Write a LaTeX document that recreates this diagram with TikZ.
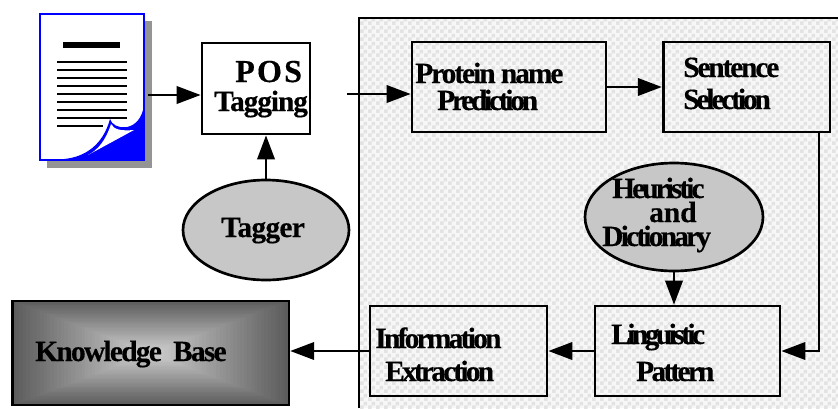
\documentclass[tikz,border=0pt]{standalone}
\usepackage{fontspec}
\setmainfont{Liberation Serif}[BoldFont={Liberation Serif Bold}]
\newfontfamily\tightfont{Liberation Serif Bold}[FakeBold=0.4]
\newcommand\ls[1]{\addfontfeature{LetterSpace=#1}}
\usetikzlibrary{arrows.meta,patterns,shapes.geometric}
\pgfdeclarepatternformonly{panelcheck}{\pgfqpoint{0pt}{0pt}}{\pgfqpoint{6pt}{6pt}}{\pgfqpoint{6pt}{6pt}}{
  \pgfpathrectangle{\pgfqpoint{0pt}{0pt}}{\pgfqpoint{3pt}{3pt}}
  \pgfpathrectangle{\pgfqpoint{3pt}{3pt}}{\pgfqpoint{3pt}{3pt}}
  \pgfusepath{fill}}
\tikzset{
  plainbox/.style={draw=black,line width=2pt,inner sep=0,rectangle},
  blob/.style={draw=black,line width=2pt,fill=black!22,ellipse,inner sep=0},
  lab/.style={inner sep=0,anchor=base west,font=\tightfont\fontsize{22}{22}\selectfont,text=black},
  conn/.style={line width=2pt,-{Triangle[length=18pt,width=13pt]},draw=black},
  txtline/.style={line width=2.2pt,draw=black},
}
\begin{document}
\begin{tikzpicture}[x=0.75pt,y=-0.75pt]
\useasboundingbox (0,0) rectangle (838,408);
% panel
\fill[black!3] (359,18) rectangle (838,408);
\fill[pattern=panelcheck,pattern color=black!11] (359,18) rectangle (838,408);
\draw[line width=2pt] (359,408) -- (359,18) -- (838,18);
% document
\fill[black!42] (47,21) rectangle (152,168);
\node[draw=blue,line width=2pt,fill=white,minimum width=78pt,minimum height=109.5pt,inner sep=0] (doc) at (92,87) {};
\fill[blue] (64,159) .. controls (85,157) and (103,145) .. (110,119) .. controls (113,130) and (137,133) .. (143,110) -- (144,160) -- cycle;
\fill[white] (88,155) .. controls (98,150) and (106,140) .. (111,124) .. controls (114,130) and (122,131) .. (134,130) -- cycle;
\draw[line width=4pt] (63,45) -- (120,45);
\foreach \y in {62,70,78,86,94,102,110,118} \draw[txtline] (57,\y) -- (127,\y);
\draw[txtline] (57,126) -- (103,126);
% boxes
\node[plainbox,fill=white,minimum width=81pt,minimum height=68.25pt] (pos) at (256,88.5) {};
\node[plainbox,minimum width=145.5pt,minimum height=67.5pt] (prot) at (509,87) {};
\node[plainbox,minimum width=125pt,minimum height=67.5pt] (sent) at (746.5,87) {};
\node[plainbox,minimum width=138.75pt,minimum height=67.5pt] (ling) at (687.5,351) {};
\node[plainbox,minimum width=132.75pt,minimum height=67.5pt] (info) at (458.5,351) {};
\node[blob,minimum width=124.5pt,minimum height=75pt] (tagger) at (266,230) {};
\node[blob,minimum width=133.5pt,minimum height=81pt] (heur) at (674,217) {};
% knowledge base
\foreach \i in {0,...,40}{
  \pgfmathsetmacro\hw{138*(1-\i/40)}
  \pgfmathsetmacro\hh{52*(1-\i/40)}
  \pgfmathsetmacro\g{0.36+0.46*\i/40}
  \definecolor{kbc}{gray}{\g}
  \fill[kbc] (150.5-\hw,353-\hh) rectangle (150.5+\hw,353+\hh);
}
\node[plainbox,minimum width=207.5pt,minimum height=78pt] (kb) at (150.5,353) {};
% texts
\node[lab,font=\tightfont\fontsize{24}{24}\selectfont] (t1) at (235,82) {\ls{7}POS};
\node[lab] (t2) at (214,111) {\ls{-3.6}Tagging};
\node[lab] (t3) at (415,83) {\ls{-6.8}Protein name};
\node[lab] (t4) at (437,110) {\ls{-11}Prediction};
\node[lab] (t5) at (683,77) {\ls{-7.2}Sentence};
\node[lab] (t6) at (683,109) {\ls{-10.6}Selection};
\node[lab] (t7) at (221,237) {\ls{-2.3}Tagger};
\node[lab] (t8) at (612,198) {\ls{-10}Heuristic};
\node[lab] (t9) at (649,222) {and};
\node[lab] (t10) at (602,246) {\ls{-9.4}Dictionary};
\node[lab] (t11) at (611,344) {\ls{-12}Linguistic};
\node[lab] (t12) at (636,381) {\ls{-9.3}Pattern};
\node[lab] (t13) at (375,348) {\ls{-9.2}Information};
\node[lab] (t14) at (385,381) {\ls{-9.4}Extraction};
\node[lab] (t15) at (35,361) {\ls{-5.8}Knowledge~~Base};
% connectors
\coordinate (docout) at (148,95);
\coordinate (posout) at (347,94);
\coordinate (sentout) at (819,132);
\draw[conn] (docout) -- (docout -| pos.west);
\draw[conn] (posout) -- (posout -| prot.west);
\draw[conn] (prot.east) -- (sent.west);
\draw[conn] (tagger.north) -- (tagger.north |- pos.south);
\draw[conn] (heur.south) -- (heur.south |- ling.north);
\draw[conn] (sentout) |- (ling.east);
\draw[conn] (ling.west) -- (info.east);
\draw[conn] (info.west) -- (kb.east |- info.west);
\end{tikzpicture}
\end{document}
